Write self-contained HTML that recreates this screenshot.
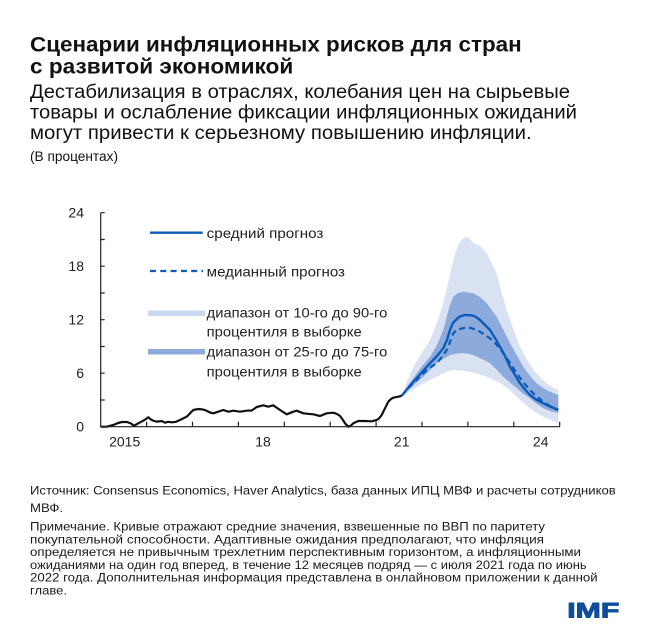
<!DOCTYPE html>
<html><head><meta charset="utf-8"><style>
html,body{margin:0;padding:0;background:#fff;}
svg{display:block;}
</style></head><body>
<svg width="650" height="634" viewBox="0 0 650 634" xmlns="http://www.w3.org/2000/svg">
<rect width="650" height="634" fill="#fff"/>
<g font-family="'Liberation Sans', Arial, sans-serif" fill="#111">
<text x="30" y="51.7" font-size="21" font-weight="bold" textLength="491.7" lengthAdjust="spacingAndGlyphs">Сценарии инфляционных рисков для стран</text>
<text x="30" y="73.3" font-size="21" font-weight="bold" textLength="263.3" lengthAdjust="spacingAndGlyphs">с развитой экономикой</text>
<text x="30" y="98" font-size="19" textLength="540" lengthAdjust="spacingAndGlyphs">Дестабилизация в отраслях, колебания цен на сырьевые</text>
<text x="30" y="118.5" font-size="19" textLength="547" lengthAdjust="spacingAndGlyphs">товары и ослабление фиксации инфляционных ожиданий</text>
<text x="30" y="138.8" font-size="19" textLength="501.7" lengthAdjust="spacingAndGlyphs">могут привести к серьезному повышению инфляции.</text>
<text x="30" y="161" font-size="13.5" textLength="88" lengthAdjust="spacingAndGlyphs">(В процентах)</text>
</g>

<!-- bands -->
<path fill="#d9e2f3" d="M401.7,395.7 L407,382 L413.3,366.7 L420,356 L430,340 L437,323 L443.3,303.3 L448,283 L451.7,266.7 L455,254 L458.3,245 L462,239 L466.7,236.7 L470,238.5 L473.3,243.3 L480,246 L486.7,253.3 L491,262 L496.7,273.3 L501,290 L506.7,310 L513,328 L520,346.7 L526.7,359 L533.3,370 L540,377 L546.7,383.3 L552,387 L558.3,390 L558.3,423.3 L551,420 L543.3,416.7 L536,412.5 L530,408.3 L523,402.5 L516.7,396.7 L510,390.5 L503.3,385 L495,380.5 L486.7,376.7 L478,374 L470,371.7 L461,370.5 L453.3,370 L446,372 L440,375 L432,379 L423.3,383.3 L416,387.5 L410,391.7 Z"/>
<path fill="#8caadc" d="M401.7,395.7 L409,384 L416.7,373.3 L423,365 L430,356.7 L437,345 L443.3,330 L448,312 L450,305 L453.3,296.7 L458,293 L463.3,291.7 L468,292.5 L473.3,293.3 L480,297 L486.7,303.3 L491,309 L496.7,316.7 L503,329 L510,343.3 L516.7,355 L523.3,366.7 L530,376 L536.7,383.3 L543,388 L550,391.7 L558.3,395 L558.3,413.3 L550,411 L543.3,408.3 L536,403.5 L530,398.3 L523,393.5 L516.7,388.3 L510,382.5 L503.3,376.7 L497,370 L490,363.3 L482,359 L473.3,355 L467,353.5 L460,353.3 L455,354 L450,355 L443,359 L436.7,363.3 L430,370 L423.3,376.7 L416,383 L410,388.3 Z"/>

<!-- mean -->
<polyline fill="none" stroke="#0b5cb8" stroke-width="2.4" stroke-linejoin="round" points="401.7,395.7 408,388 416.7,378 423,371 430,363.3 437,356 443.3,348.3 447,340 450,330 453,323 456.7,319 460,316.5 465,315 471.7,315.3 476,317 480,320 485,325 490,330 495,338 500,346.7 505,356 510,366.7 515,375 520,383.3 525,389.5 530,395 536,399.5 543.3,403.3 550,406.5 558.3,410"/>
<!-- median -->
<polyline fill="none" stroke="#0b5cb8" stroke-width="2.2" stroke-dasharray="6,4" stroke-linejoin="round" points="401.7,395.7 410,386.5 420,376.7 428,369 436.7,363.3 442,357 446.7,350 450,342 453.3,333.3 456.5,330 460,329 466.7,327.3 471,328 476.7,330 483,333.5 490,338.3 497,345 503.3,353.3 510,363 516.7,373.3 523,382 530,390 536,396 543.3,401.7 550,406 558.3,410"/>

<!-- history -->
<polyline fill="none" stroke="#111" stroke-width="2.2" stroke-linejoin="round" points="100.7,426.7 106.7,426.7 113.3,425 118,423 122,422 127,422 131,423.5 134,425.8 138.3,423.3 143.3,420.7 146,419 148.3,417.3 151,419.5 153.3,420.7 156,421.5 158.3,421.5 161.7,421 165,422.7 168,421.8 172,422.3 176,421.8 180,420 184,418 187,416.5 190,413.3 193.3,410 198.3,409 203,409.5 206,410.5 210,412.5 213.3,413.3 218.3,411.7 223.3,410 228.3,411.7 233.3,410.7 240,411.7 246.7,410.7 251.7,410.5 256.7,407 263.3,405.3 268.3,406.7 273.3,405.3 280,410 286.7,414.3 293.3,411.7 296.7,410.7 303.3,413.3 308,413.8 313.3,414.3 320,416 326.7,413.3 333.3,412.7 337,414 340,416 343,420 345,423.3 348.3,426.7 351,425.5 353.3,423.3 358.3,421 365,421 371.7,421.3 376.7,420 379,418.5 381.7,415 385,408.3 388.3,401.7 391,399 393.3,397.7 398.3,396.7 401.7,395.7"/>

<!-- axes -->
<g stroke="#222" stroke-width="1.2" fill="none">
<path d="M100.7,212.7 V426.7 H560"/>
<path d="M100.7,212.7 h4 M100.7,239.5 h4 M100.7,266.2 h4 M100.7,293 h4 M100.7,319.7 h4 M100.7,346.5 h4 M100.7,373.2 h4 M100.7,400 h4"/>
<path d="M146.6,426.7 v-5 M192.5,426.7 v-5 M238.4,426.7 v-5 M284.3,426.7 v-5 M330.2,426.7 v-5 M376.1,426.7 v-5 M422,426.7 v-5 M467.9,426.7 v-5 M513.8,426.7 v-5 M559.7,426.7 v-5"/>
</g>
<g font-family="'Liberation Sans', Arial, sans-serif" font-size="14" fill="#222">
<text x="84" y="217.5" text-anchor="end">24</text>
<text x="84" y="271" text-anchor="end">18</text>
<text x="84" y="324.5" text-anchor="end">12</text>
<text x="84" y="378" text-anchor="end">6</text>
<text x="84" y="431.5" text-anchor="end">0</text>
<text x="124.7" y="446.5" text-anchor="middle">2015</text>
<text x="263" y="446.5" text-anchor="middle">18</text>
<text x="401.7" y="446.5" text-anchor="middle">21</text>
<text x="540.7" y="446.5" text-anchor="middle">24</text>
</g>

<!-- legend -->
<line x1="150" y1="232.7" x2="202.7" y2="232.7" stroke="#0b5cb8" stroke-width="2.4"/>
<line x1="150" y1="271" x2="203" y2="271" stroke="#0b5cb8" stroke-width="2.2" stroke-dasharray="6,4.3"/>
<rect x="148" y="310.5" width="57" height="5.5" fill="#c9d8ef"/>
<rect x="148" y="349" width="57" height="5.5" fill="#8caadc"/>
<g font-family="'Liberation Sans', Arial, sans-serif" font-size="14" fill="#222">
<text x="206.7" y="238" textLength="116.6" lengthAdjust="spacingAndGlyphs">средний прогноз</text>
<text x="206.7" y="276.5" textLength="138.3" lengthAdjust="spacingAndGlyphs">медианный прогноз</text>
<text x="206.7" y="317.5" textLength="180.6" lengthAdjust="spacingAndGlyphs">диапазон от 10-го до 90-го</text>
<text x="206.7" y="336.5" textLength="155" lengthAdjust="spacingAndGlyphs">процентиля в выборке</text>
<text x="206.7" y="356.5" textLength="180.6" lengthAdjust="spacingAndGlyphs">диапазон от 25-го до 75-го</text>
<text x="206.7" y="376.5" textLength="155" lengthAdjust="spacingAndGlyphs">процентиля в выборке</text>
</g>

<!-- footer -->
<g font-family="'Liberation Sans', Arial, sans-serif" font-size="12" fill="#1a1a1a">
<text x="30" y="494.5" textLength="585.7" lengthAdjust="spacingAndGlyphs">Источник: Consensus Economics, Haver Analytics, база данных ИПЦ МВФ и расчеты сотрудников</text>
<text x="30" y="512" textLength="33" lengthAdjust="spacingAndGlyphs">МВФ.</text>
<text x="30" y="530.7" textLength="515" lengthAdjust="spacingAndGlyphs">Примечание. Кривые отражают средние значения, взвешенные по ВВП по паритету</text>
<text x="30" y="543.4" textLength="514" lengthAdjust="spacingAndGlyphs">покупательной способности. Адаптивные ожидания предполагают, что инфляция</text>
<text x="30" y="556.1" textLength="551" lengthAdjust="spacingAndGlyphs">определяется не привычным трехлетним перспективным горизонтом, а инфляционными</text>
<text x="30" y="568.8" textLength="556.7" lengthAdjust="spacingAndGlyphs">ожиданиями на один год вперед, в течение 12 месяцев подряд — с июля 2021 года по июнь</text>
<text x="30" y="581.5" textLength="567.7" lengthAdjust="spacingAndGlyphs">2022 года. Дополнительная информация представлена в онлайновом приложении к данной</text>
<text x="30" y="594.5" textLength="37" lengthAdjust="spacingAndGlyphs">главе.</text>
</g>
<text x="567.3" y="617.5" font-family="'Liberation Sans', Arial, sans-serif" font-size="21" font-weight="bold" fill="#0f4c9a" stroke="#0f4c9a" stroke-width="0.9" textLength="52" lengthAdjust="spacingAndGlyphs">IMF</text>
</svg>
</body></html>
